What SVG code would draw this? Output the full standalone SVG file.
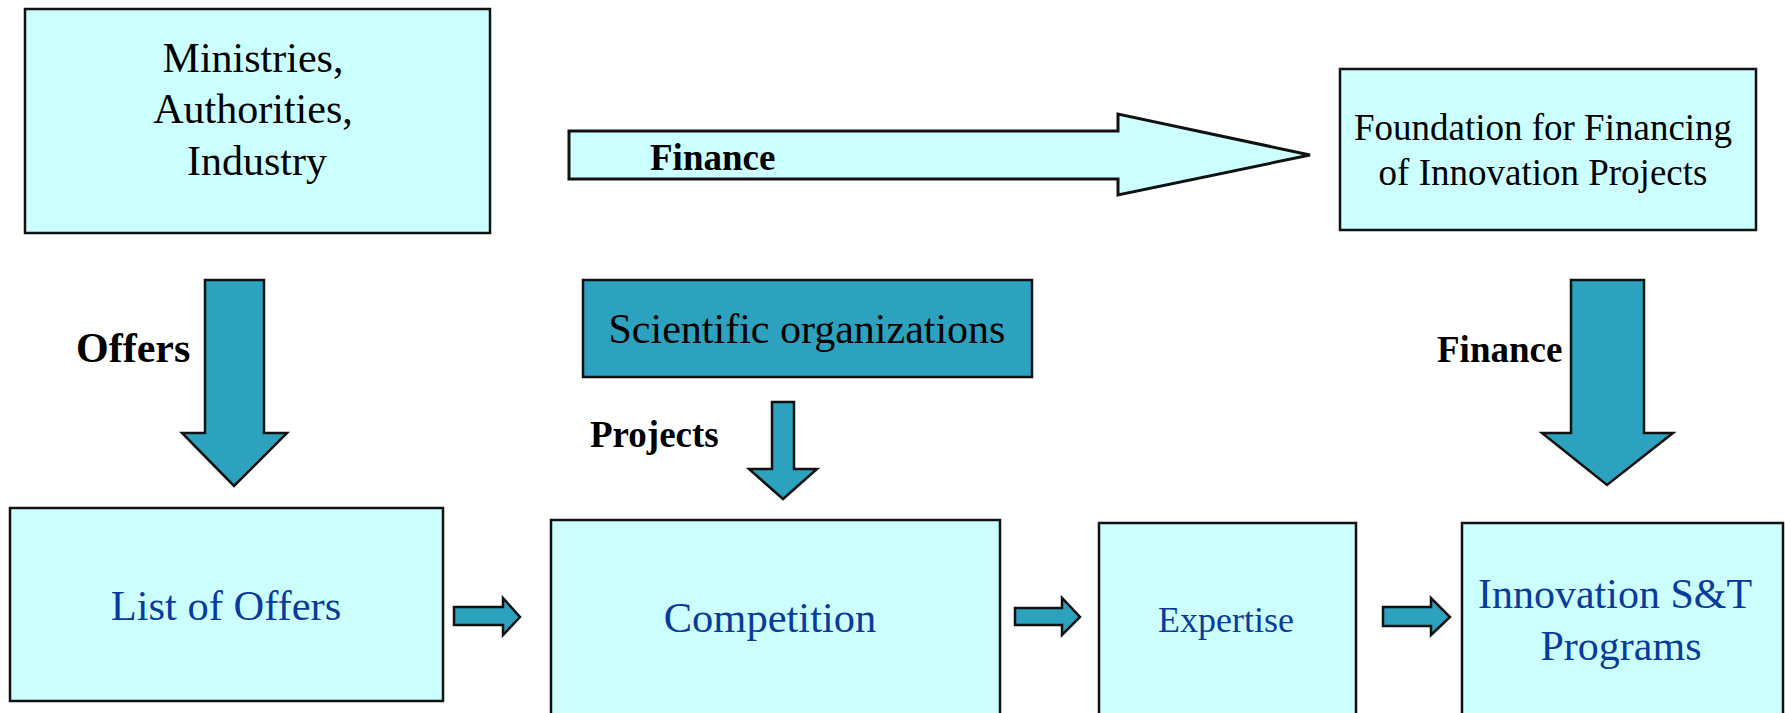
<svg xmlns="http://www.w3.org/2000/svg" width="1785" height="713" viewBox="0 0 1785 713">
<style>
.box{fill:#CCFFFF;stroke:#111;stroke-width:2.5}
.dark{fill:#2CA2BE;stroke:#111;stroke-width:2.5}
.arr{fill:#2CA2BE;stroke:#111;stroke-width:2.5;stroke-linejoin:miter}
.larr{fill:#CCFFFF;stroke:#111;stroke-width:3}
.t{font-family:"Liberation Serif","Times New Roman",serif;text-anchor:middle;fill:#000}
.b{font-family:"Liberation Serif","Times New Roman",serif;font-weight:bold;fill:#000}
.blue{fill:#0A3A9A}
</style>
<rect width="1785" height="713" fill="#fff"/>
<g id="ministries">
<rect class="box" x="25" y="9" width="465" height="224"/>
<text class="t" font-size="42" x="253" y="72">Ministries,</text>
<text class="t" font-size="42" x="253" y="123">Authorities,</text>
<text class="t" font-size="42" x="257" y="175">Industry</text>
</g>
<g id="foundation">
<rect class="box" x="1340" y="69" width="416" height="161"/>
<text class="t" font-size="37" x="1543" y="140">Foundation for Financing</text>
<text class="t" font-size="37" x="1543" y="185">of Innovation Projects</text>
</g>
<g id="scientific">
<rect class="dark" x="583" y="280" width="449" height="97"/>
<text class="t" font-size="42" x="807" y="343">Scientific organizations</text>
</g>
<g id="list-of-offers">
<rect class="box" x="10" y="508" width="433" height="193"/>
<text class="t blue" font-size="42.5" x="226" y="620">List of Offers</text>
</g>
<g id="competition">
<rect class="box" x="551" y="520" width="449" height="200"/>
<text class="t blue" font-size="42.5" x="770" y="632">Competition</text>
</g>
<g id="expertise">
<rect class="box" x="1099" y="523" width="257" height="200"/>
<text class="t blue" font-size="36" x="1226" y="632">Expertise</text>
</g>
<g id="innovation">
<rect class="box" x="1462" y="523" width="321" height="200"/>
<text class="t blue" font-size="42" x="1615" y="608">Innovation S&amp;T</text>
<text class="t blue" font-size="42" x="1621" y="660">Programs</text>
</g>
<g id="connectors">
<polygon class="larr" points="569,131 1118,131 1118,114 1310,155 1118,195 1118,179 569,179"/>
<text class="b" font-size="37" x="650" y="170">Finance</text>
<polygon class="arr" points="205,280 264,280 264,433 287,433 234,486 182,433 205,433"/>
<text class="b" font-size="42" x="76" y="362">Offers</text>
<polygon class="arr" points="772,402 794,402 794,469 817,469 783,499 749,469 772,469"/>
<text class="b" font-size="37" x="590" y="447">Projects</text>
<polygon class="arr" points="1571,280 1644,280 1644,433 1673,433 1607,485 1542,433 1571,433"/>
<text class="b" font-size="37" x="1437" y="362">Finance</text>
<polygon class="arr" points="454,607 503,607 503,598 520,617 503,635 503,625 454,625"/>
<polygon class="arr" points="1015,608 1062,608 1062,598 1080,617 1062,635 1062,625 1015,625"/>
<polygon class="arr" points="1383,607 1431,607 1431,598 1450,617 1431,635 1431,626 1383,626"/>
</g>
</svg>
